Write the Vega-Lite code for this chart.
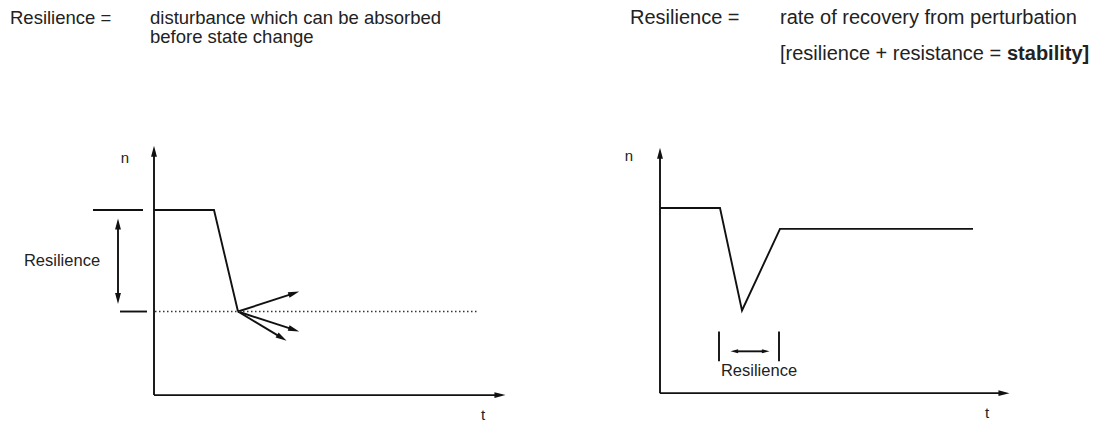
{
  "$schema": "https://vega.github.io/schema/vega-lite/v6.json",
  "width": 1105,
  "height": 423,
  "autosize": {"type": "fit", "contains": "padding"},
  "padding": 0,
  "background": "white",
  "config": {"view": {"stroke": null}},
  "datasets": {
    "lines": [
      {"seg": "L-yaxis", "o": 1, "x": 154, "y": 397},
      {"seg": "L-yaxis", "o": 2, "x": 154, "y": 156},
      {"seg": "L-xaxis", "o": 1, "x": 154, "y": 397},
      {"seg": "L-xaxis", "o": 2, "x": 496, "y": 397},
      {"seg": "L-curve", "o": 1, "x": 154, "y": 211},
      {"seg": "L-curve", "o": 2, "x": 214, "y": 211},
      {"seg": "L-curve", "o": 3, "x": 238, "y": 313},
      {"seg": "L-tickTop", "o": 1, "x": 93, "y": 211},
      {"seg": "L-tickTop", "o": 2, "x": 143, "y": 211},
      {"seg": "L-tickBottom", "o": 1, "x": 120, "y": 313},
      {"seg": "L-tickBottom", "o": 2, "x": 147, "y": 313},
      {"seg": "L-resArrow", "o": 1, "x": 118, "y": 228},
      {"seg": "L-resArrow", "o": 2, "x": 118, "y": 297},
      {"seg": "L-fan1", "o": 1, "x": 238, "y": 313},
      {"seg": "L-fan1", "o": 2, "x": 293, "y": 295},
      {"seg": "L-fan2", "o": 1, "x": 238, "y": 313},
      {"seg": "L-fan2", "o": 2, "x": 293, "y": 331},
      {"seg": "L-fan3", "o": 1, "x": 238, "y": 313},
      {"seg": "L-fan3", "o": 2, "x": 281, "y": 339},
      {"seg": "R-yaxis", "o": 1, "x": 660, "y": 395},
      {"seg": "R-yaxis", "o": 2, "x": 660, "y": 158},
      {"seg": "R-xaxis", "o": 1, "x": 660, "y": 395},
      {"seg": "R-xaxis", "o": 2, "x": 1000, "y": 395},
      {"seg": "R-curve", "o": 1, "x": 660, "y": 209},
      {"seg": "R-curve", "o": 2, "x": 720, "y": 209},
      {"seg": "R-curve", "o": 3, "x": 742, "y": 312},
      {"seg": "R-curve", "o": 4, "x": 780, "y": 230},
      {"seg": "R-curve", "o": 5, "x": 973, "y": 230},
      {"seg": "R-bar1", "o": 1, "x": 719, "y": 333},
      {"seg": "R-bar1", "o": 2, "x": 719, "y": 363},
      {"seg": "R-bar2", "o": 1, "x": 779, "y": 333},
      {"seg": "R-bar2", "o": 2, "x": 779, "y": 363},
      {"seg": "R-resArrow", "o": 1, "x": 736, "y": 353},
      {"seg": "R-resArrow", "o": 2, "x": 764, "y": 353}
    ],
    "dots": [
      {"seg": "L-threshold", "o": 1, "x": 155, "y": 313},
      {"seg": "L-threshold", "o": 2, "x": 478, "y": 313}
    ],
    "heads": [
      {"kind": "big", "x": 154, "y": 153, "heading": 0},
      {"kind": "big", "x": 499, "y": 397, "heading": 90},
      {"kind": "big", "x": 660, "y": 155, "heading": 0},
      {"kind": "big", "x": 1003, "y": 395, "heading": 90},
      {"kind": "big", "x": 118, "y": 226, "heading": 0},
      {"kind": "big", "x": 118, "y": 299, "heading": 180},
      {"kind": "big", "x": 293, "y": 295, "heading": 72},
      {"kind": "big", "x": 293, "y": 331, "heading": 108},
      {"kind": "big", "x": 281, "y": 339, "heading": 121},
      {"kind": "small", "x": 735, "y": 353, "heading": 270},
      {"kind": "small", "x": 765, "y": 353, "heading": 90}
    ],
    "texts": [
      {"role": "headL", "x": 10, "y": 24, "label": "Resilience ="},
      {"role": "headL", "x": 150, "y": 24, "label": "disturbance which can be absorbed"},
      {"role": "headL", "x": 150, "y": 43, "label": "before state change"},
      {"role": "headR", "x": 630, "y": 24, "label": "Resilience ="},
      {"role": "headR", "x": 780, "y": 24, "label": "rate of recovery from perturbation"},
      {"role": "headR", "x": 780, "y": 60, "label": "[resilience + resistance ="},
      {"role": "headRbold", "x": 1007, "y": 60, "label": "stability]"},
      {"role": "axis", "x": 125, "y": 159, "label": "n"},
      {"role": "axis", "x": 483, "y": 417, "label": "t"},
      {"role": "axis", "x": 629, "y": 157, "label": "n"},
      {"role": "axis", "x": 987, "y": 415, "label": "t"},
      {"role": "res", "x": 62, "y": 262, "label": "Resilience"},
      {"role": "res", "x": 759, "y": 373, "label": "Resilience"}
    ]
  },
  "encoding": {
    "x": {"field": "x", "type": "quantitative", "scale": {"domain": [0, 1105], "nice": false, "zero": false}, "axis": null},
    "y": {"field": "y", "type": "quantitative", "scale": {"domain": [0, 423], "nice": false, "zero": false, "reverse": true}, "axis": null}
  },
  "layer": [
    {
      "data": {"name": "lines"},
      "mark": {"type": "line", "color": "#111", "strokeWidth": 1.9},
      "encoding": {"detail": {"field": "seg"}, "order": {"field": "o"}}
    },
    {
      "data": {"name": "dots"},
      "mark": {"type": "line", "color": "#333", "strokeWidth": 1.3, "strokeDash": [1.5, 2.5]},
      "encoding": {"detail": {"field": "seg"}, "order": {"field": "o"}}
    },
    {
      "data": {"name": "heads"},
      "transform": [{"filter": "datum.kind === 'big'"}],
      "mark": {"type": "point", "shape": "M0,-1L-0.45,0.7L0.45,0.7Z", "filled": true, "color": "#111", "size": 170, "opacity": 1},
      "encoding": {"angle": {"field": "heading", "type": "quantitative", "scale": null}}
    },
    {
      "data": {"name": "heads"},
      "transform": [{"filter": "datum.kind === 'small'"}],
      "mark": {"type": "point", "shape": "M0,-1L-0.45,0.7L0.45,0.7Z", "filled": true, "color": "#111", "size": 80, "opacity": 1},
      "encoding": {"angle": {"field": "heading", "type": "quantitative", "scale": null}}
    },
    {
      "data": {"name": "texts"},
      "transform": [{"filter": "datum.role === 'headL'"}],
      "mark": {"type": "text", "align": "left", "baseline": "alphabetic", "font": "Liberation Sans", "fontSize": 18.5, "color": "#222"},
      "encoding": {"text": {"field": "label"}}
    },
    {
      "data": {"name": "texts"},
      "transform": [{"filter": "datum.role === 'headR'"}],
      "mark": {"type": "text", "align": "left", "baseline": "alphabetic", "font": "Liberation Sans", "fontSize": 20, "color": "#222"},
      "encoding": {"text": {"field": "label"}}
    },
    {
      "data": {"name": "texts"},
      "transform": [{"filter": "datum.role === 'headRbold'"}],
      "mark": {"type": "text", "align": "left", "baseline": "alphabetic", "font": "Liberation Sans", "fontSize": 20, "fontWeight": "bold", "color": "#222"},
      "encoding": {"text": {"field": "label"}}
    },
    {
      "data": {"name": "texts"},
      "transform": [{"filter": "datum.role === 'axis'"}],
      "mark": {"type": "text", "align": "center", "baseline": "middle", "font": "Liberation Sans", "fontSize": 15, "color": "#222"},
      "encoding": {"text": {"field": "label"}}
    },
    {
      "data": {"name": "texts"},
      "transform": [{"filter": "datum.role === 'res'"}],
      "mark": {"type": "text", "align": "center", "baseline": "middle", "font": "Liberation Sans", "fontSize": 16.5, "color": "#222"},
      "encoding": {"text": {"field": "label"}}
    }
  ]
}
